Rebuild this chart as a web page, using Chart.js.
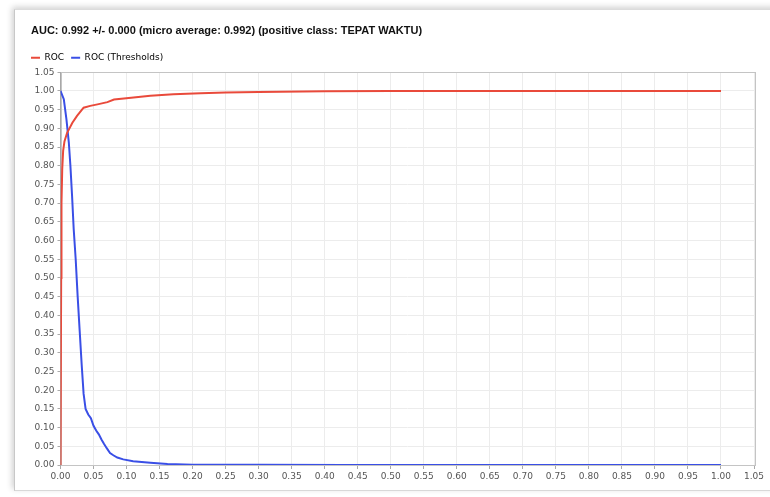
<!DOCTYPE html>
<html>
<head>
<meta charset="utf-8">
<script src="https://cdn.jsdelivr.net/npm/chart.js@4/dist/chart.umd.min.js"></script>
<style>
  html, body { margin: 0; padding: 0; background: #ffffff; width: 770px; height: 497px; overflow: hidden; }
  #panel { position: absolute; left: 14px; top: 9px; width: 800px; height: 480px;
           background: #fff; border-left: 1px solid #c8c8c8; border-top: 1px solid #dcdcdc; border-bottom: 1px solid #d8d8d8;
           box-shadow: -2px -2px 6px rgba(0,0,0,0.18); }
  #c { position: absolute; left: 0; top: 0; }
</style>
</head>
<body>
<div id="panel"></div>
<canvas id="c" width="770" height="497"></canvas>
<script>
// ROC curve (false positive rate -> true positive rate)
const rocX = [0, 0.001, 0.0015, 0.0026, 0.004, 0.006, 0.01, 0.018, 0.025, 0.035, 0.045, 0.056, 0.071, 0.081, 0.096, 0.136, 0.171, 0.212, 0.25, 0.3, 0.4, 0.5, 1.0];
const rocY = [0, 0.5, 0.7, 0.79, 0.84, 0.865, 0.888, 0.915, 0.933, 0.955, 0.96, 0.964, 0.97, 0.977, 0.98, 0.987, 0.991, 0.994, 0.996, 0.997, 0.999, 1.0, 1.0];
// ROC (Thresholds)
const thrX = [0, 0.005, 0.009, 0.0126, 0.015, 0.0175, 0.02, 0.023, 0.026, 0.029, 0.032, 0.035, 0.038, 0.042, 0.046, 0.05, 0.054, 0.058, 0.062, 0.066, 0.07, 0.075, 0.08, 0.086, 0.095, 0.11, 0.136, 0.162, 0.2, 0.3, 0.43, 1.0];
const thrY = [1.0, 0.978, 0.924, 0.862, 0.80, 0.72, 0.63, 0.55, 0.45, 0.36, 0.27, 0.19, 0.15, 0.135, 0.125, 0.105, 0.092, 0.082, 0.068, 0.056, 0.045, 0.032, 0.026, 0.02, 0.015, 0.01, 0.006, 0.003, 0.001, 0.0005, 0.0002, 0.0];
const seriesNames = ['ROC', 'ROC (Thresholds)'];
const titleText = 'AUC: 0.992 +/- 0.000 (micro average: 0.992) (positive class: TEPAT WAKTU)';
const axisMin = 0, axisMax = 1.05, axisStep = 0.05;

const toPts = (xs, ys) => xs.map((x, i) => ({ x: x, y: ys[i] }));
const RED = '#e94a3b', BLUE = '#3a4fe6';

const shiftTitle = {
  id: 'shiftTitle',
  afterLayout(chart) {
    if (chart.titleBlock) { chart.titleBlock.left += 7; }
  },
  beforeDatasetsDraw(chart) {
    const a = chart.chartArea, ctx = chart.ctx;
    ctx.save();
    ctx.strokeStyle = '#c4c4c4';
    ctx.lineWidth = 1;
    ctx.strokeRect(Math.round(a.left) + 0.5, Math.round(a.top) + 0.5, Math.round(a.right - a.left), Math.round(a.bottom - a.top));
    ctx.restore();
  }
};

new Chart(document.getElementById('c'), {
  type: 'line',
  data: {
    datasets: [
      { label: seriesNames[0], data: toPts(rocX, rocY), borderColor: RED, backgroundColor: RED, borderWidth: 2, pointRadius: 0, tension: 0 },
      { label: seriesNames[1], data: toPts(thrX, thrY), borderColor: BLUE, backgroundColor: BLUE, borderWidth: 2, pointRadius: 0, tension: 0 }
    ]
  },
  options: {
    responsive: false,
    animation: false,
    layout: { padding: { left: 24, right: 16, top: 0, bottom: 10 } },
    plugins: {
      title: {
        display: true, text: titleText, align: 'start', color: '#111',
        font: { family: 'Liberation Sans', size: 11, weight: 'bold' },
        padding: { top: 24, bottom: 9 }
      },
      legend: {
        display: true, align: 'start',
        labels: {
          boxWidth: 9, boxHeight: 2, padding: 7, color: '#444',
          font: { family: 'DejaVu Sans', size: 9 },
          generateLabels(chart) {
            return chart.data.datasets.map((d, i) => ({
              text: d.label, fillStyle: d.borderColor, strokeStyle: d.borderColor, lineWidth: 0, datasetIndex: i, hidden: false
            }));
          }
        }
      },
      tooltip: { enabled: false }
    },
    scales: {
      x: {
        type: 'linear', min: axisMin, max: axisMax,
        afterFit(s) { s.height = 22; },
        ticks: { stepSize: axisStep, padding: 2, color: '#555', maxRotation: 0, autoSkip: false,
                 font: { family: 'DejaVu Sans', size: 9 }, callback: v => Number(v).toFixed(2) },
        grid: { color: '#ececec', tickColor: '#aaa', tickLength: 4 },
        border: { color: '#a8a8a8' }
      },
      y: {
        type: 'linear', min: axisMin, max: axisMax,
        afterFit(s) { s.width = 36.5; },
        ticks: { stepSize: axisStep, padding: 3, color: '#555', autoSkip: false,
                 font: { family: 'DejaVu Sans', size: 9 }, callback: v => Number(v).toFixed(2) },
        grid: { color: '#ececec', tickColor: '#aaa', tickLength: 3 },
        border: { color: '#a8a8a8' }
      }
    }
  },
  plugins: [shiftTitle]
});
</script>
</body>
</html>
